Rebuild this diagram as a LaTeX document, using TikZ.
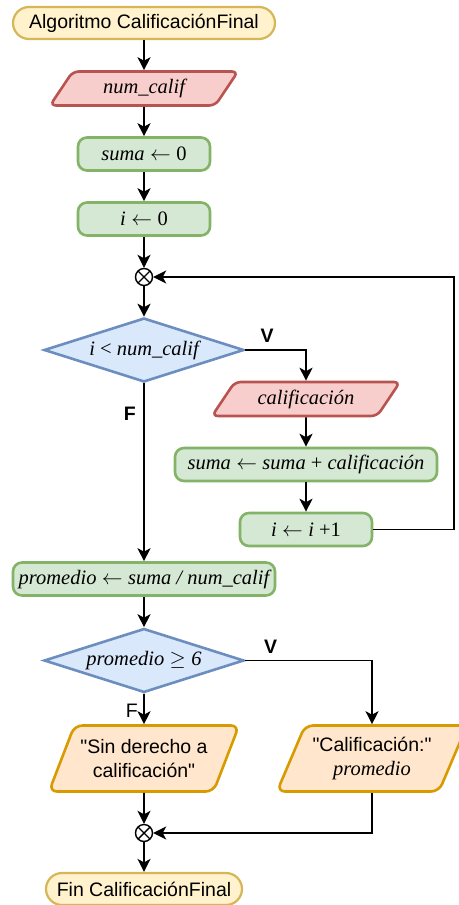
\documentclass[tikz,border=0pt]{standalone}
\usepackage{fontspec}
\setmainfont{Liberation Sans}
\newfontfamily\exprfont{Liberation Serif}
\definecolor{termFill}{HTML}{FFF2CC}
\definecolor{termLine}{HTML}{D6B656}
\definecolor{leerFill}{HTML}{F8CECC}
\definecolor{leerLine}{HTML}{B85450}
\definecolor{procFill}{HTML}{D5E8D4}
\definecolor{procLine}{HTML}{82B366}
\definecolor{decFill}{HTML}{DAE8FC}
\definecolor{decLine}{HTML}{6C8EBF}
\definecolor{salFill}{HTML}{FFE6CC}
\definecolor{salLine}{HTML}{D79B00}
\usetikzlibrary{shapes.geometric, arrows.meta, positioning}
\newcommand{\expr}[1]{{\exprfont\itshape\fontsize{20.5}{24}\selectfont #1}}

\begin{document}
\begin{tikzpicture}[x=1pt, y=-1pt, font=\fontsize{19.5}{23}\selectfont,
    line width=1.6pt, >={Stealth[length=13pt, width=13pt, inset=3.5pt]},
    term/.style={draw=termLine, fill=termFill, line width=2.2pt,
      rounded corners=16pt, minimum height=32pt, inner sep=2pt},
    proceso/.style={draw=procLine, fill=procFill, line width=2.6pt,
      rounded corners=9pt, minimum height=33pt, minimum width=132pt, inner sep=2pt},
    entrada/.style={trapezium, trapezium left angle=45, trapezium right angle=135,
      trapezium stretches body=true, draw=leerLine, fill=leerFill, line width=2.6pt,
      rounded corners=6pt, minimum height=34pt, minimum width=188pt, inner sep=2pt},
    salida/.style={trapezium, trapezium left angle=59, trapezium right angle=121,
      trapezium stretches body=true, draw=salLine, fill=salFill, line width=2.6pt,
      rounded corners=8pt, minimum height=66pt, minimum width=190pt, inner sep=2pt,
      align=center, font=\fontsize{19.5}{24}\selectfont},
    decision/.style={diamond, aspect=3.125, draw=decLine, fill=decFill, line width=2.6pt,
      minimum width=200pt, minimum height=64pt, inner sep=0pt},
    union/.style={circle, draw, line width=1.4pt, minimum size=17pt, inner sep=0pt,
      path picture={\draw[line width=1.4pt]
        (path picture bounding box.south west) -- (path picture bounding box.north east)
        (path picture bounding box.north west) -- (path picture bounding box.south east);}},
    etiqueta/.style={font=\bfseries\fontsize{19.5}{23}\selectfont}]
  \useasboundingbox (0,0) rectangle (458,905);

  \node[term, minimum width=262pt] (inicio) at (144,23) {Algoritmo CalificaciónFinal};
  \node[entrada] (leer) at (144,88.5) {\expr{num\_calif}};
  \node[proceso] (suma0) at (144,154) {\expr{suma} $\leftarrow$ \expr{\upshape 0}};
  \node[proceso] (i0) at (144,219) {\expr{i} $\leftarrow$ \expr{\upshape 0}};
  \node[union] (u1) at (144,277) {};
  \node[decision] (cond1) at (144,350) {\expr{i {\upshape<} num\_calif}};
  \node[entrada] (leercal) at (306,399) {\expr{calificación}};
  \node[proceso, minimum width=262pt] (acum) at (306,464.5)
    {\expr{suma} $\leftarrow$ \expr{suma {\upshape+} calificación}};
  \node[proceso] (incr) at (306,529.5) {\expr{i} $\leftarrow$ \expr{i {\upshape+1}}};
  \node[proceso, minimum width=262pt] (prom) at (144,579)
    {\expr{promedio} $\leftarrow$ \expr{suma / num\_calif}};
  \node[decision] (cond2) at (144,660.5) {\expr{promedio} $\geq$ \expr{6}};
  \node[salida] (sinder) at (144,758.5)
    {\textquotedbl Sin derecho a\\calificación\textquotedbl};
  \node[salida] (cal) at (372,758.5) {\textquotedbl Calificación:\textquotedbl\\\expr{promedio}};
  \node[union] (u2) at (144,833) {};
  \node[term, minimum width=196pt] (fin) at (144,889) {Fin CalificaciónFinal};
  \coordinate (lazo) at (454,0);

  \draw[->] (inicio) -- (leer);
  \draw[->] (leer) -- (suma0);
  \draw[->] (suma0) -- (i0);
  \draw[->] (i0) -- (u1);
  \draw[->] (u1) -- (cond1);
  \draw[->] (cond1.east) -| (leercal.north)
    node[etiqueta, pos=0.18, above=3pt] (v1) {V};
  \draw[->] (leercal) -- (acum);
  \draw[->] (acum) -- (incr);
  \draw[->] (incr.east) -- (incr.east -| lazo) |- (u1.east);
  \draw[->] (cond1.south) -- (prom.north)
    node[etiqueta, pos=0.17, left=4pt] (f1) {F};
  \draw[->] (prom) -- (cond2);
  \draw[->] (cond2.east) -| (cal.north)
    node[etiqueta, pos=0.1, above=3pt] (v2) {V};
  \draw[->] (cond2.south) -- (sinder.north) node[pos=0.55, left=2pt] (f2) {F};
  \draw[->] (sinder) -- (u2);
  \draw[->] (cal.south) |- (u2.east);
  \draw[->] (u2) -- (fin);
\end{tikzpicture}
\end{document}
